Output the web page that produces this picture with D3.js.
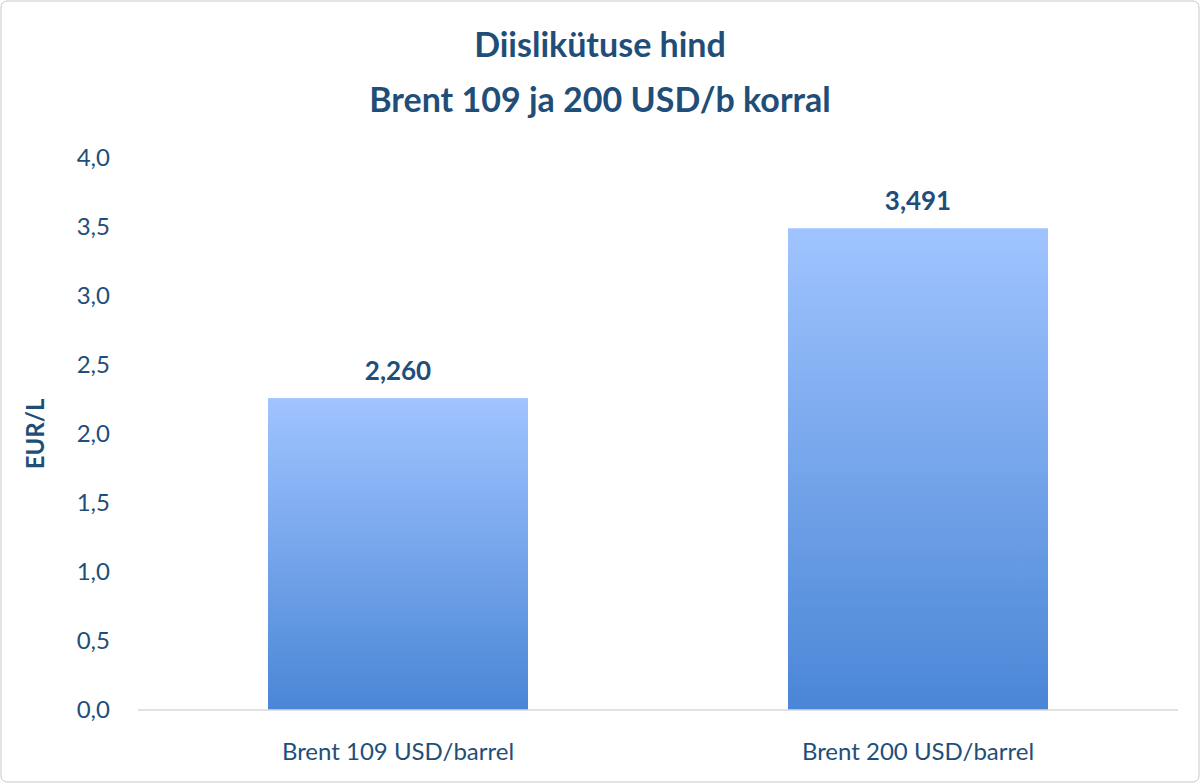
<!DOCTYPE html>
<html><head><meta charset="utf-8">
<script src="https://cdn.jsdelivr.net/npm/d3@7"></script>
<style>body{margin:0;background:#fff}</style>
</head><body>
<svg id="chart"></svg>
<script>
let width = 1200, height = 783;
let categories = ["Brent 109 USD/barrel", "Brent 200 USD/barrel"];
let values = [2.260, 3.491];
let ticks = [0, 0.5, 1, 1.5, 2, 2.5, 3, 3.5, 4];
let titleLines = ["Diislikütuse hind", "Brent 109 ja 200 USD/b korral"];
let textColor = "#1f4e79";
let font = "Lato, 'Open Sans', sans-serif";
let fmt = (v, n) => v.toFixed(n).replace(".", ",");

let svg = d3.select("#chart").attr("width", width).attr("height", height);

let grad = svg.append("defs").append("linearGradient")
  .attr("id", "barGrad").attr("x1", 0).attr("y1", 0).attr("x2", 0).attr("y2", 1);
grad.append("stop").attr("offset", "0%").attr("stop-color", "#a0c4ff");
grad.append("stop").attr("offset", "100%").attr("stop-color", "#4a86d6");

svg.append("rect").attr("x", 1).attr("y", 1).attr("width", width - 2).attr("height", height - 2)
  .attr("rx", 6).attr("fill", "#fff").attr("stroke", "#c8c8c8");

let x = d3.scaleBand().domain(categories).range([138, 1178]).paddingInner(0.5).paddingOuter(0.25);
let y = d3.scaleLinear().domain([0, 4]).range([710, 158]);

// titles
svg.selectAll(".title").data(titleLines).enter().append("text")
  .attr("x", 600).attr("y", (d, i) => 57 + i * 55)
  .attr("text-anchor", "middle").attr("font-family", font).attr("font-weight", "bold")
  .attr("font-size", 34).attr("fill", textColor).text(d => d);

// y ticks
svg.selectAll(".ytick").data(ticks).enter().append("text")
  .attr("x", 110).attr("y", d => y(d) + 8).attr("text-anchor", "end")
  .attr("font-family", font).attr("font-size", 24).attr("fill", textColor)
  .text(d => fmt(d, 1));

svg.append("text").attr("transform", "translate(44," + y(2) + ") rotate(-90)")
  .attr("text-anchor", "middle").attr("font-family", font).attr("font-weight", "bold")
  .attr("font-size", 24).attr("fill", textColor).text("EUR/L");

// bars
svg.selectAll(".bar").data(values).enter().append("rect")
  .attr("x", (d, i) => x(categories[i])).attr("width", x.bandwidth())
  .attr("y", d => y(d)).attr("height", d => y(0) - y(d)).attr("fill", "url(#barGrad)");

svg.selectAll(".lbl").data(values).enter().append("text")
  .attr("x", (d, i) => x(categories[i]) + x.bandwidth() / 2).attr("y", d => y(d) - 18)
  .attr("text-anchor", "middle").attr("font-family", font).attr("font-weight", "bold")
  .attr("font-size", 26).attr("fill", textColor).text(d => fmt(d, 3));

svg.append("line").attr("x1", 138).attr("x2", 1178).attr("y1", y(0)).attr("y2", y(0))
  .attr("stroke", "#d9d9d9").attr("stroke-width", 1.5);

svg.selectAll(".cat").data(categories).enter().append("text")
  .attr("x", d => x(d) + x.bandwidth() / 2).attr("y", 760)
  .attr("text-anchor", "middle").attr("font-family", font).attr("font-size", 24)
  .attr("fill", textColor).text(d => d);
</script>
</body></html>
